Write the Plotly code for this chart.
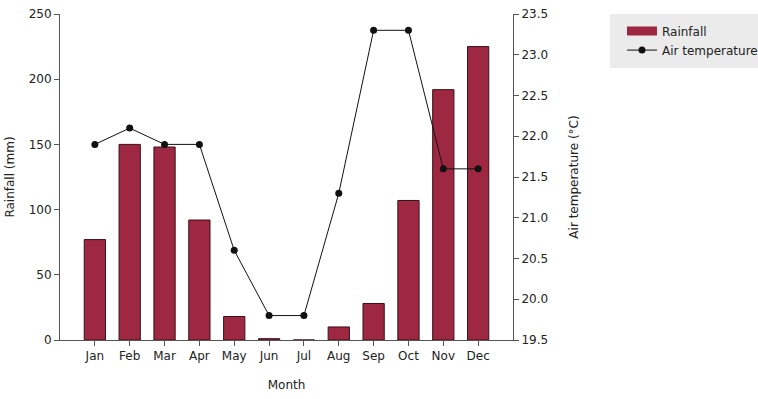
import plotly.graph_objects as go

months = ["Jan", "Feb", "Mar", "Apr", "May", "Jun", "Jul", "Aug", "Sep", "Oct", "Nov", "Dec"]
rainfall = [77, 150, 148, 92, 18, 1, 0, 10, 28, 107, 192, 225]
air_temp = [21.9, 22.1, 21.9, 21.9, 20.6, 19.8, 19.8, 21.3, 23.3, 23.3, 21.6, 21.6]

font = dict(family="DejaVu Sans", size=12, color="#222")
axcol = "#555"
bar_color = "#9e2842"

fig = go.Figure()
fig.add_trace(go.Bar(
    x=months, y=rainfall, name="Rainfall", width=0.61, showlegend=False,
    marker=dict(color=bar_color, line=dict(color="#3a1018", width=1)),
))
# legend swatch for rainfall (wide rectangle as in the reference)
fig.add_trace(go.Scatter(
    x=[None], y=[None], name="Rainfall", mode="lines",
    line=dict(color=bar_color, width=9), hoverinfo="skip",
))
fig.add_trace(go.Scatter(
    x=months, y=air_temp, name="Air temperature", yaxis="y2",
    mode="lines+markers",
    line=dict(color="#111", width=1),
    marker=dict(color="#111", size=7),
))

fig.update_layout(
    width=758, height=399,
    margin=dict(l=60, r=245, t=14, b=59, autoexpand=False),
    paper_bgcolor="white", plot_bgcolor="white",
    font=font,
    showlegend=True,
    legend=dict(x=1.2406, y=0.992, xanchor="left", yanchor="top",
                bgcolor="rgba(0,0,0,0)", font=font, tracegroupgap=0,
                borderwidth=0),
    shapes=[dict(type="rect", xref="paper", yref="paper",
                 x0=1.214, x1=1.56, y0=0.834, y1=1.0,
                 fillcolor="#ebebeb", line=dict(width=0), layer="below")],
    xaxis=dict(
        type="category", range=[-1, 12],
        showline=True, linecolor=axcol, linewidth=1,
        ticks="outside", ticklen=5, tickcolor=axcol,
        showgrid=False, zeroline=False,
        title=dict(text="Month", font=font, standoff=18),
    ),
    yaxis=dict(
        range=[0, 250], tickvals=[0, 50, 100, 150, 200, 250],
        showline=True, linecolor=axcol, linewidth=1,
        ticks="outside", ticklen=5, tickcolor=axcol,
        showgrid=False, zeroline=False,
        title=dict(text="Rainfall (mm)", font=font, standoff=11),
    ),
    yaxis2=dict(
        range=[19.5, 23.5], overlaying="y", side="right",
        tickvals=[19.5, 20.0, 20.5, 21.0, 21.5, 22.0, 22.5, 23.0, 23.5],
        tickformat=".1f",
        showline=True, linecolor=axcol, linewidth=1,
        ticks="outside", ticklen=5, tickcolor=axcol,
        showgrid=False, zeroline=False,
        title=dict(text="Air temperature (°C)", font=font, standoff=22),
    ),
)

fig.write_html("out.html")
